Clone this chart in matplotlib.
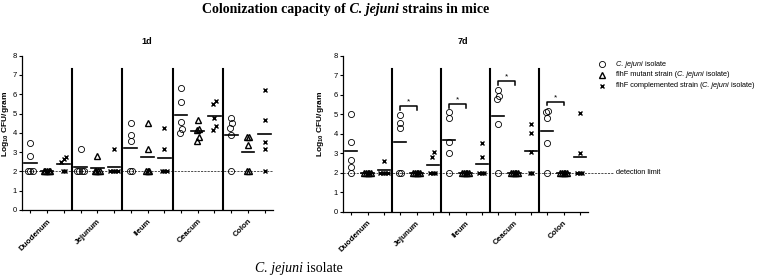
import numpy as np
import matplotlib
matplotlib.use('Agg')
import matplotlib.pyplot as plt
from matplotlib.lines import Line2D
from matplotlib.text import Annotation

plt.rcParams['font.family'] = ['Liberation Sans', 'DejaVu Sans']

organs = ['Duodenum', 'Jejunum', 'Ileum', 'Ceacum', 'Colon']

# log10 CFU/gram, one list of 5 mice per organ
day1_isolate = [[3.48, 2.78, 2, 2, 2], [3.18, 2, 2, 2, 2], [4.49, 3.88, 3.6, 2, 2],
                [6.31, 5.62, 4.56, 4.21, 3.97], [4.78, 4.49, 4.26, 3.9, 2]]
day1_mutant = [[2, 2, 2, 2, 2], [2.82, 2, 2, 2, 2], [4.52, 3.18, 2, 2, 2],
               [4.66, 4.2, 4.15, 3.79, 3.57], [3.79, 3.79, 3.36, 2, 2]]
day1_compl = [[2.75, 2.64, 2.47, 2, 2], [3.18, 2, 2, 2, 2], [4.26, 3.18, 2, 2, 2],
              [5.65, 5.48, 4.78, 4.38, 4.17], [6.23, 4.66, 3.51, 3.18, 2]]

day7_isolate = [[5.0, 3.57, 2.64, 2.31, 2], [4.95, 4.55, 4.3, 2, 2], [5.1, 4.78, 3.6, 3.02, 2],
                [6.23, 5.95, 5.8, 4.52, 2], [5.18, 5.13, 4.78, 3.51, 2]]
day7_mutant = [[2, 2, 2, 2, 2], [2, 2, 2, 2, 2], [2, 2, 2, 2, 2],
               [2, 2, 2, 2, 2], [2, 2, 2, 2, 2]]
day7_compl = [[2.6, 2, 2, 2, 2], [3.04, 2.83, 2, 2, 2], [3.51, 2.82, 2, 2, 2],
              [4.52, 4.03, 3.04, 2, 2], [5.04, 3.0, 2, 2, 2]]
day7_sig = [None, 5.43, 5.53, 6.7, 5.65]

detection_limit = 2

W, H = 778, 278
fig = plt.figure(figsize=(W / 100, H / 100), dpi=100)

markers = [dict(marker='o', ms=4.4, mfc='none', mec='k', mew=0.6),
           dict(marker='^', ms=4.0, mfc='none', mec='k', mew=1.0),
           dict(marker='x', ms=3.4, mec='k', mew=1.0)]
steps = [0.15, 0.1, 0.15]


def spread(vals, step):
    order = np.argsort(vals, kind='stable')
    offs = np.zeros(len(vals))
    clusters, cur = [], [order[0]]
    for i in order[1:]:
        if vals[i] - vals[cur[-1]] < 0.25:
            cur.append(i)
        else:
            clusters.append(cur)
            cur = [i]
    clusters.append(cur)
    for c in clusters:
        n = len(c)
        for k, i in enumerate(c):
            offs[i] = (k - (n - 1) / 2) * step
    return offs


def draw_panel(ax, iso, mut, comp, sig=None, line_end=14.5):
    for g in range(5):
        for s, data in enumerate([iso, mut, comp]):
            vals = np.array(data[g], float)
            xc = 3 * g + s
            ax.plot(xc + spread(vals, steps[s]), vals, ls='none', zorder=3, **markers[s])
            m = vals.mean()
            ax.plot([xc - 0.38, xc + 0.38], [m, m], color='k', lw=1.2, zorder=2)
    for g in range(1, 5):
        ax.plot([3 * g - 0.5] * 2, [0, 7.3], color='k', lw=1.5, zorder=2)
    ax.plot([-0.5, line_end], [detection_limit] * 2, ls=(0, (2.2, 1.2)),
            color='0.3', lw=0.7, zorder=1, clip_on=False)
    if sig is not None:
        for g, h in enumerate(sig):
            if h is None:
                continue
            x0, x1 = 3 * g, 3 * g + 1
            ax.plot([x0, x0, x1, x1], [h - 0.2, h, h, h - 0.2], color='k', lw=1.1)
            ax.text((x0 + x1) / 2, h + 0.02, '*', ha='center', va='bottom', fontsize=6)

    ax.set_xlim(-0.5, 14.5)
    ax.set_ylim(0, 8)
    for sp in ['top', 'right']:
        ax.spines[sp].set_visible(False)
    for sp in ['left', 'bottom']:
        ax.spines[sp].set_linewidth(0.9)
    ax.set_yticks(range(9))
    ax.tick_params(axis='y', labelsize=5.5, length=2.5, width=0.8, pad=1)
    ax.set_xticks(range(15))
    labels = ['' if i % 3 != 1 else organs[i // 3] for i in range(15)]
    ax.set_xticklabels(labels, rotation=45, ha='right', rotation_mode='anchor',
                       fontsize=5.8, fontweight='bold')
    ax.tick_params(axis='x', length=2.5, width=0.8, pad=3)
    ax.set_ylabel('Log$_{\\mathregular{10}}$ CFU/gram', fontsize=6, fontweight='bold')


ax1 = fig.add_axes([22 / W, 68 / H, 251 / W, 154.3 / H])
draw_panel(ax1, day1_isolate, day1_mutant, day1_compl)
ax1.yaxis.set_label_coords(-0.042, 0.56)

ax2 = fig.add_axes([343 / W, 66.3 / H, 245 / W, 156 / H])
draw_panel(ax2, day7_isolate, day7_mutant, day7_compl, sig=day7_sig, line_end=16.0)
ax2.yaxis.set_label_coords(-0.068, 0.56)
ax2.text(16.2, detection_limit, 'detection limit', va='center', ha='left', fontsize=5.3)

fig.text(147 / W, 1 - 41 / H, '1d', ha='center', va='center', fontsize=6.5, fontweight='bold')
fig.text(463 / W, 1 - 41 / H, '7d', ha='center', va='center', fontsize=6.5, fontweight='bold')


def rich_text(x, y, parts, ha='left', va='bottom', **kw):
    first = fig.text(x, y, parts[0][0], va=va, ha='left', **kw, **parts[0][1])
    items, prev = [first], first
    for s, st in parts[1:]:
        a = Annotation(s, xy=(1, 0), xycoords=prev, va='bottom', ha='left', **kw, **st)
        fig.add_artist(a)
        items.append(a)
        prev = a
    if ha == 'center':
        r = fig.canvas.get_renderer()
        total = sum(t.get_window_extent(r).width for t in items)
        first.set_x(x - total / 2 / fig.bbox.width)
    return items


it = dict(style='italic')
serif = dict(family='Liberation Serif')
rich_text(346 / W, 1 - 16 / H,
          [('Colonization capacity of', {}), (' C. jejuni', it), (' strains in mice', {})],
          ha='center', fontsize=10, fontweight='bold', **serif)
rich_text(255 / W, 0.012, [('C. jejuni', it), (' isolate', {})], fontsize=10, **serif)

legend_rows = [
    [('C. jejuni', it), (' isolate', {})],
    [('flhF mutant strain (', {}), ('C. jejuni', it), (' isolate)', {})],
    [('flhF complemented strain (', {}), ('C. jejuni', it), (' isolate)', {})],
]
for k, parts in enumerate(legend_rows):
    y = 1 - (64.3 + 10.7 * k) / H
    fig.add_artist(Line2D([602 / W], [y], transform=fig.transFigure, ls='none', **markers[k]))
    rich_text(616 / W, y, parts, va='center', fontsize=5.3)

fig.savefig('out.png', dpi=100)
